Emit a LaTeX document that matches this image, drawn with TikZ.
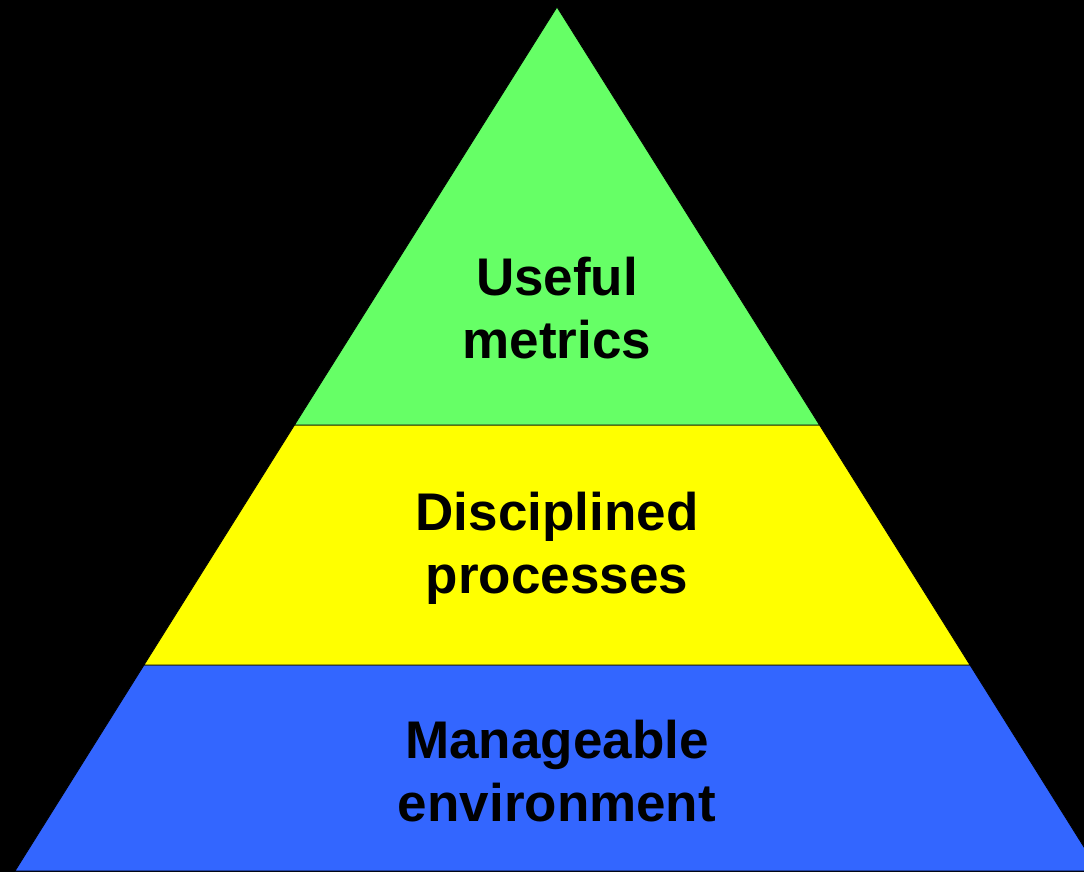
\documentclass[tikz,border=0pt]{standalone}
\usepackage{fontspec}
\setmainfont{Liberation Sans}
\definecolor{topgreen}{HTML}{66FF66}
\definecolor{midyellow}{HTML}{FFFF00}
\definecolor{basblue}{HTML}{3366FF}
\tikzset{
  band/.style={draw=black, line width=0.8pt, line join=miter},
  bandlabel/.style={align=center, inner sep=0pt,
    font=\fontsize{53}{63}\selectfont\bfseries}
}
\begin{document}
\begin{tikzpicture}[x=1pt, y=-1pt]
		\useasboundingbox (0, 0) rectangle (1084, 872);
		\fill[black] (0, 0) rectangle (1084, 872);
		\clip (0, 0) rectangle (1084, 872);
		% pyramid bands
		\draw[band, fill=basblue] (144, 665) -- (970, 665) -- (1099, 871) -- (15, 871) -- cycle;
		\draw[band, fill=midyellow] (294.5, 425) -- (819.5, 425) -- (970, 665) -- (144, 665) -- cycle;
		\draw[band, fill=topgreen] (557, 7) -- (819.5, 425) -- (294.5, 425) -- cycle;
		\node[bandlabel] (metrics) at (557, 308) {Useful\\metrics};
		\node[bandlabel] (processes) at (557, 548) {Disciplined\\processes};
		\node[bandlabel] (environment) at (557, 771) {Manageable\\environment};
	\end{tikzpicture}
\end{document}
